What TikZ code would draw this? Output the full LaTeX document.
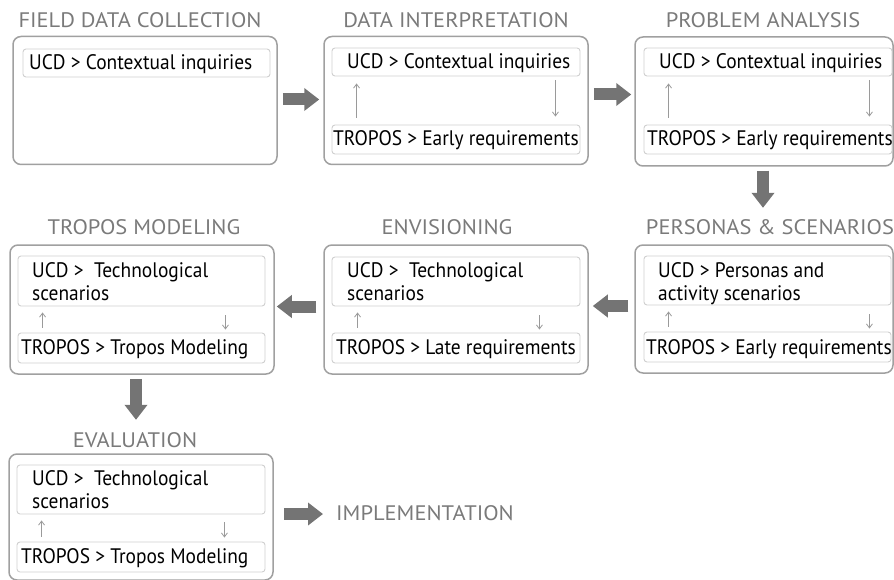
\documentclass[tikz,border=0pt]{standalone}
\usepackage{fontspec}
\setmainfont{PT Sans}[FakeStretch=0.925]
\newfontfamily\ttlfont{PT Sans}[FakeStretch=1.07]
\usetikzlibrary{arrows.meta}
\definecolor{ttlgray}{HTML}{7A7A7A}
\definecolor{outergray}{HTML}{A0A0A0}
\definecolor{innergray}{HTML}{CFCFCF}
\definecolor{biggray}{HTML}{747474}
\definecolor{smallgray}{HTML}{9A9A9A}
\begin{document}
\begin{tikzpicture}[x=1pt,y=-1pt,
  outerbox/.style={draw=outergray, line width=1.5pt, rounded corners=8pt, inner sep=0pt},
  innerbox/.style={draw=innergray, line width=0.9pt, rounded corners=3pt, inner sep=0pt},
  txt/.style={inner sep=0pt, anchor=base west, font=\fontsize{21}{23}\selectfont, text=black},
  ttl/.style={inner sep=0pt, anchor=base, font=\ttlfont\fontsize{21}{23}\selectfont, text=ttlgray},
  bigarrow/.style={draw=biggray, line width=12pt, -{Triangle[width=22pt,length=15pt]}},
  smallarrow/.style={draw=smallgray, line width=0.8pt, -{Straight Barb[length=4pt,width=6pt]}}]
\useasboundingbox (0,0) rectangle (894,580);

% ---------- Row 1 ----------
\node[ttl] (fdct) at (140,28) {FIELD DATA COLLECTION};
\node[outerbox, minimum width=264pt, minimum height=128pt] (fdc) at (145,100.5) {};
\node[innerbox, minimum width=247pt, minimum height=28pt] (fdc1) at (146.5,63) {};
\node[txt] (fdc1t) at (29,70) {UCD > Contextual inquiries};

\node[ttl] (dit) at (456,28) {DATA INTERPRETATION};
\node[outerbox, minimum width=264pt, minimum height=128pt] (di) at (456,100.5) {};
\node[innerbox, minimum width=248pt, minimum height=28pt] (di1) at (456,62) {};
\node[innerbox, minimum width=248pt, minimum height=29pt] (di2) at (456,139.5) {};
\node[txt] (di1t) at (347,69) {UCD > Contextual inquiries};
\node[txt] (di2t) at (333,146) {TROPOS > Early requirements};
\draw[smallarrow] ([xshift=25pt,yshift=7pt]di2.north west) -- ([xshift=25pt,yshift=-7pt]di1.south west);
\draw[smallarrow] ([xshift=-25pt,yshift=-4pt]di1.south east) -- ([xshift=-25pt,yshift=8pt]di2.north east);

\node[ttl] (pat) at (763,28) {PROBLEM ANALYSIS};
\node[outerbox, minimum width=258pt, minimum height=129pt] (pa) at (764,101.5) {};
\node[innerbox, minimum width=248pt, minimum height=28pt] (pa1) at (768,62) {};
\node[innerbox, minimum width=248pt, minimum height=29pt] (pa2) at (768,139.5) {};
\node[txt] (pa1t) at (659,69) {UCD > Contextual inquiries};
\node[txt] (pa2t) at (647,146) {TROPOS > Early requirements};
\draw[smallarrow] ([xshift=25pt,yshift=7pt]pa2.north west) -- ([xshift=25pt,yshift=-7pt]pa1.south west);
\draw[smallarrow] ([xshift=-23pt,yshift=-4pt]pa1.south east) -- ([xshift=-23pt,yshift=8pt]pa2.north east);

% ---------- Row 2 ----------
\node[ttl] (tmt) at (144,235) {TROPOS MODELING};
\node[outerbox, minimum width=264pt, minimum height=129pt] (tm) at (142,309.5) {};
\node[innerbox, minimum width=247pt, minimum height=50pt] (tm1) at (141.5,281) {};
\node[innerbox, minimum width=247pt, minimum height=30pt] (tm2) at (141.5,348) {};
\node[txt] (tm1a) at (32,277) {UCD >\ \ Technological};
\node[txt] (tm1b) at (32,300) {scenarios};
\node[txt] (tm2t) at (21,354) {TROPOS > Tropos Modeling};
\draw[smallarrow] ([xshift=25pt,yshift=5pt]tm2.north west) -- ([xshift=25pt,yshift=-6pt]tm1.south west);
\draw[smallarrow] ([xshift=-40pt,yshift=-9pt]tm1.south east) -- ([xshift=-40pt,yshift=3pt]tm2.north east);

\node[ttl] (envt) at (447,235) {ENVISIONING};
\node[outerbox, minimum width=264pt, minimum height=129pt] (env) at (456,309.5) {};
\node[innerbox, minimum width=248pt, minimum height=49pt] (env1) at (456,281.5) {};
\node[innerbox, minimum width=248pt, minimum height=30pt] (env2) at (456,348) {};
\node[txt] (env1a) at (347,277) {UCD >\ \ Technological};
\node[txt] (env1b) at (347,300) {scenarios};
\node[txt] (env2t) at (336,354) {TROPOS > Late requirements};
\draw[smallarrow] ([xshift=26pt,yshift=5pt]env2.north west) -- ([xshift=26pt,yshift=-6pt]env1.south west);
\draw[smallarrow] ([xshift=-41pt,yshift=-9pt]env1.south east) -- ([xshift=-41pt,yshift=3pt]env2.north east);

\node[ttl] (pst) at (770,235) {PERSONAS \& SCENARIOS};
\node[outerbox, minimum width=258pt, minimum height=128pt] (ps) at (764,309) {};
\node[innerbox, minimum width=247pt, minimum height=49pt] (ps1) at (767.5,280.5) {};
\node[innerbox, minimum width=247pt, minimum height=30pt] (ps2) at (767.5,347) {};
\node[txt] (ps1a) at (658,277) {UCD > Personas and};
\node[txt] (ps1b) at (658,300) {activity scenarios};
\node[txt] (ps2t) at (646,354) {TROPOS > Early requirements};
\draw[smallarrow] ([xshift=25pt,yshift=5pt]ps2.north west) -- ([xshift=25pt,yshift=-6pt]ps1.south west);
\draw[smallarrow] ([xshift=-22pt,yshift=-9pt]ps1.south east) -- ([xshift=-22pt,yshift=3pt]ps2.north east);

% ---------- Row 3 ----------
\node[ttl] (evt) at (135,447) {EVALUATION};
\node[outerbox, minimum width=264pt, minimum height=126pt] (ev) at (141,517) {};
\node[innerbox, minimum width=248pt, minimum height=49pt] (ev1) at (141,489.5) {};
\node[innerbox, minimum width=248pt, minimum height=30pt] (ev2) at (141,557) {};
\node[txt] (ev1a) at (32,485) {UCD >\ \ Technological};
\node[txt] (ev1b) at (32,508) {scenarios};
\node[txt] (ev2t) at (21,563) {TROPOS > Tropos Modeling};
\draw[smallarrow] ([xshift=25pt,yshift=5pt]ev2.north west) -- ([xshift=25pt,yshift=-6pt]ev1.south west);
\draw[smallarrow] ([xshift=-41pt,yshift=-8pt]ev1.south east) -- ([xshift=-41pt,yshift=4pt]ev2.north east);

\node[ttl, anchor=base west] (impl) at (336,520) {IMPLEMENTATION};

% ---------- Big arrows ----------
\draw[bigarrow, shorten <=5pt, shorten >=4pt] ([yshift=1pt]fdc.east) -- ([yshift=1pt]fdc.east -| di.west);
\draw[bigarrow, shorten <=5pt, shorten >=3pt] ([yshift=6pt]di.east) -- ([yshift=6pt]di.east -| pa.west);
\draw[bigarrow, shorten <=4pt] ([xshift=-1pt]pa.south) -- ([xshift=-1pt,yshift=12pt]pa.south |- pst.north);
\draw[bigarrow, shorten <=6pt, shorten >=4pt] ([yshift=3pt]ps.west) -- ([yshift=3pt]ps.west -| env.east);
\draw[bigarrow, shorten <=7pt, shorten >=2pt] ([yshift=3pt]env.west) -- ([yshift=3pt]env.west -| tm.east);
\draw[bigarrow, shorten <=4pt] ([xshift=-6pt]tm.south) -- ([xshift=-6pt,yshift=12pt]tm.south |- evt.north);
\draw[bigarrow, shorten <=10pt, shorten >=13pt] ([yshift=3pt]ev.east) -- ([yshift=3pt]ev.east -| impl.west);
\end{tikzpicture}
\end{document}
